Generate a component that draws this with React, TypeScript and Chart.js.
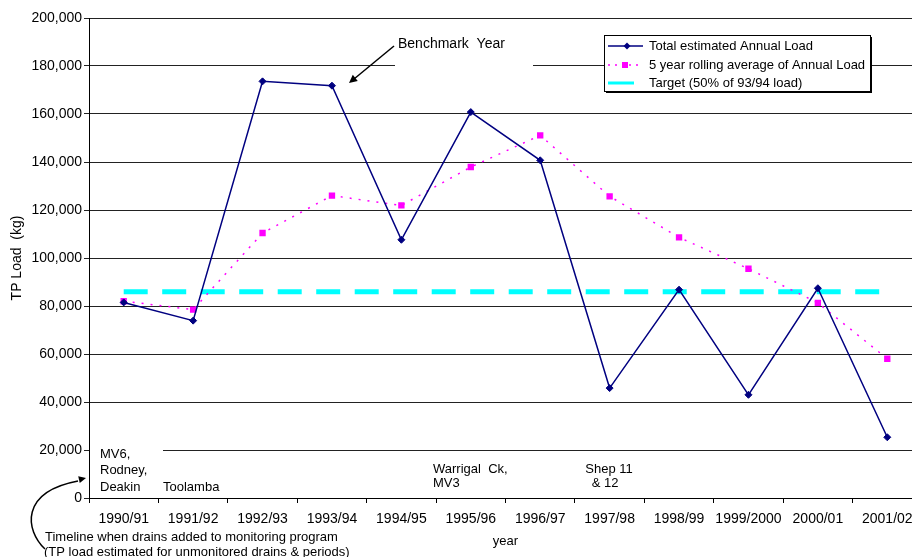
import React, { useEffect, useRef } from "react";
import { Chart, registerables } from "chart.js";

Chart.register(...registerables);

const years = [
  "1990/91", "1991/92", "1992/93", "1993/94", "1994/95", "1995/96",
  "1996/97", "1997/98", "1998/99", "1999/2000", "2000/01", "2001/02",
];
const totalLoad = [81500, 73900, 173600, 171800, 107600, 160800, 140700, 45800, 86800, 43000, 87400, 25300];
const rollingAverage = [82000, 78500, 110400, 126000, 121900, 137900, 151100, 125700, 108600, 95500, 81300, 58000];
const targetLoad = [85900, 85900, 85900, 85900, 85900, 85900, 85900, 85900, 85900, 85900, 85900, 85900];

const yMin = 0;
const yMax = 200000;
const yStep = 20000;

const legendLabels = [
  "Total estimated Annual Load",
  "5 year rolling average of Annual Load",
  "Target (50% of 93/94 load)",
];
const yTitle = "TP Load  (kg)";
const xTitle = "year";
const benchmarkText = "Benchmark  Year";
const drainNote1 = ["MV6,", "Rodney,", "Deakin"];
const drainNote2 = ["Toolamba"];
const drainNote3 = ["Warrigal  Ck,", "MV3"];
const drainNote4 = ["Shep 11", "& 12"];
const timelineText = [
  "Timeline when drains added to monitoring program",
  "(TP load estimated for unmonitored drains & periods)",
];

const NAVY = "#000080";
const PINK = "#FF00FF";
const CYAN = "#00FFFF";
const FAMILY = "'Liberation Sans', Arial, sans-serif";

const fmt = (v: number) => String(v).replace(/\B(?=(\d{3})+(?!\d))/g, ",");

function arrowHead(ctx: CanvasRenderingContext2D, fx: number, fy: number, tx: number, ty: number, size: number) {
  const ang = Math.atan2(ty - fy, tx - fx);
  ctx.beginPath();
  ctx.moveTo(tx, ty);
  ctx.lineTo(tx - size * Math.cos(ang - 0.45), ty - size * Math.sin(ang - 0.45));
  ctx.lineTo(tx - size * Math.cos(ang + 0.45), ty - size * Math.sin(ang + 0.45));
  ctx.closePath();
  ctx.fill();
}

const annotationPlugin = {
  id: "annotations",
  beforeDatasetsDraw(chart: any) {
    const ctx = chart.ctx as CanvasRenderingContext2D;
    ctx.save();
    ctx.fillStyle = "#fff";
    // text boxes that hide grid lines
    ctx.fillRect(395, 30, 138, 42);
    ctx.fillRect(90, 438, 73, 59);
    ctx.restore();
  },
  afterDraw(chart: any) {
    const ctx = chart.ctx as CanvasRenderingContext2D;
    ctx.save();
    ctx.fillStyle = "#000";
    ctx.strokeStyle = "#000";
    ctx.textBaseline = "middle";
    ctx.textAlign = "left";

    // Benchmark annotation
    ctx.font = `14px ${FAMILY}`;
    ctx.fillText(benchmarkText, 398, 44);
    ctx.lineWidth = 1.5;
    ctx.beginPath();
    ctx.moveTo(394, 46);
    ctx.lineTo(354, 79);
    ctx.stroke();
    arrowHead(ctx, 394, 46, 349, 83, 9);

    ctx.font = `13px ${FAMILY}`;
    // drain notes
    drainNote1.forEach((t, i) => ctx.fillText(t, 100, 454 + i * 16.5));
    drainNote2.forEach((t) => ctx.fillText(t, 163, 487));
    drainNote3.forEach((t, i) => ctx.fillText(t, 433, 469 + i * 14.5));
    ctx.textAlign = "center";
    drainNote4.forEach((t, i) => ctx.fillText(t, 609 - i * 4, 469 + i * 14.5));
    ctx.textAlign = "left";

    // timeline note
    ctx.fillText(timelineText[0], 45, 537);
    ctx.fillText(timelineText[1], 44, 552);
    ctx.lineWidth = 1.5;
    ctx.beginPath();
    ctx.moveTo(45, 549);
    ctx.bezierCurveTo(25, 530, 20, 492, 78, 481);
    ctx.stroke();
    arrowHead(ctx, 60, 484, 86, 478, 8);

    // legend
    const lx = 604, ly = 35, lw = 266, lh = 56;
    ctx.fillStyle = "#000";
    ctx.fillRect(lx + 2, ly + 2, lw, lh);
    ctx.fillStyle = "#fff";
    ctx.fillRect(lx, ly, lw, lh);
    ctx.lineWidth = 1;
    ctx.strokeStyle = "#000";
    ctx.strokeRect(lx + 0.5, ly + 0.5, lw, lh);

    const rows = [46, 65, 83];
    // row 1
    ctx.strokeStyle = NAVY;
    ctx.lineWidth = 1.5;
    ctx.beginPath();
    ctx.moveTo(608, rows[0]);
    ctx.lineTo(643, rows[0]);
    ctx.stroke();
    ctx.fillStyle = NAVY;
    ctx.beginPath();
    ctx.moveTo(627, rows[0] - 3.5);
    ctx.lineTo(630.5, rows[0]);
    ctx.lineTo(627, rows[0] + 3.5);
    ctx.lineTo(623.5, rows[0]);
    ctx.closePath();
    ctx.fill();
    // row 2
    ctx.strokeStyle = PINK;
    ctx.setLineDash([2, 5]);
    ctx.beginPath();
    ctx.moveTo(608, rows[1]);
    ctx.lineTo(643, rows[1]);
    ctx.stroke();
    ctx.setLineDash([]);
    ctx.fillStyle = PINK;
    ctx.fillRect(622, rows[1] - 3, 6, 6);
    // row 3
    ctx.strokeStyle = CYAN;
    ctx.lineWidth = 3;
    ctx.beginPath();
    ctx.moveTo(608, rows[2]);
    ctx.lineTo(634, rows[2]);
    ctx.stroke();

    ctx.fillStyle = "#000";
    legendLabels.forEach((t, i) => ctx.fillText(t, 649, rows[i]));
    ctx.restore();
  },
};

export default function App() {
  const canvasRef = useRef<HTMLCanvasElement | null>(null);

  useEffect(() => {
    const canvas = canvasRef.current;
    if (!canvas) return;
    const chart = new Chart(canvas, {
      type: "line",
      data: {
        labels: years,
        datasets: [
          {
            label: legendLabels[0],
            data: totalLoad,
            borderColor: NAVY,
            backgroundColor: NAVY,
            borderWidth: 1.5,
            pointStyle: "rectRot",
            pointRadius: 3.5,
            pointBorderWidth: 1,
            pointBackgroundColor: NAVY,
            pointBorderColor: NAVY,
            tension: 0,
            fill: false,
          },
          {
            label: legendLabels[1],
            data: rollingAverage,
            borderColor: PINK,
            backgroundColor: PINK,
            borderWidth: 1.5,
            borderDash: [2, 7],
            pointStyle: "rect",
            pointRadius: 4.5,
            pointBorderWidth: 0,
            pointBackgroundColor: PINK,
            pointBorderColor: PINK,
            tension: 0,
            fill: false,
          },
          {
            label: legendLabels[2],
            data: targetLoad,
            borderColor: CYAN,
            backgroundColor: CYAN,
            borderWidth: 5,
            borderDash: [24, 14.5],
            pointRadius: 0,
            tension: 0,
            fill: false,
          },
        ],
      },
      options: {
        responsive: false,
        animation: false,
        events: [],
        layout: { padding: { top: 18, right: 3, left: 0, bottom: 0 } },
        plugins: {
          legend: { display: false },
          tooltip: { enabled: false },
        },
        scales: {
          x: {
            type: "category",
            offset: true,
            grid: {
              display: true,
              drawOnChartArea: false,
              drawTicks: true,
              tickLength: 5,
              color: "#000",
              offset: true,
            },
            border: { display: true, color: "#000", width: 1 },
            ticks: {
              color: "#000",
              font: { family: FAMILY, size: 14 },
              padding: 8,
              maxRotation: 0,
              autoSkip: false,
            },
            title: {
              display: true,
              text: xTitle,
              color: "#000",
              font: { family: FAMILY, size: 13 },
              padding: { top: 0, bottom: 8 },
            },
            afterFit: (s: any) => {
              s.height = 59;
            },
          },
          y: {
            min: yMin,
            max: yMax,
            ticks: {
              stepSize: yStep,
              color: "#000",
              font: { family: FAMILY, size: 14 },
              padding: 2,
              callback: (v: any) => fmt(Number(v)),
            },
            grid: { color: "#222", lineWidth: 1, tickLength: 5, drawTicks: true },
            border: { display: true, color: "#000", width: 1 },
            title: {
              display: true,
              text: yTitle,
              color: "#000",
              font: { family: FAMILY, size: 14 },
              padding: { top: 9, bottom: 0 },
            },
            afterFit: (s: any) => {
              s.width = 89;
            },
          },
        },
      } as any,
      plugins: [annotationPlugin],
    });
    return () => chart.destroy();
  }, []);

  return (
    <div
      style={{
        position: "fixed",
        left: 0,
        top: 0,
        width: 912,
        height: 557,
        overflow: "hidden",
        background: "#fff",
      }}
    >
      <canvas ref={canvasRef} width={927} height={557} style={{ width: 927, height: 557, display: "block" }} />
    </div>
  );
}
